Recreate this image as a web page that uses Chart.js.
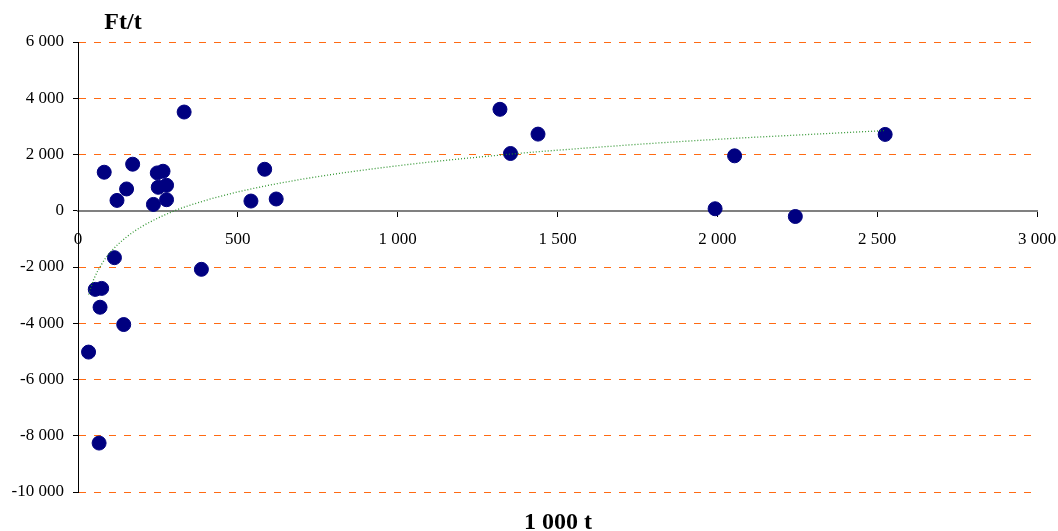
<!DOCTYPE html>
<html>
<head>
<meta charset="utf-8">
<script src="https://cdn.jsdelivr.net/npm/chart.js@4/dist/chart.umd.min.js"></script>
<style>
  body { margin: 0; background: #fff; }
</style>
</head>
<body>
<canvas id="scatterChart" width="1058" height="531"></canvas>
<script>
// 1000 t (x) vs Ft/t (y)
const tons = [332, 82, 171, 152, 122, 248, 266, 251, 277, 236, 277, 541, 584, 620,
              114, 386, 54, 74, 69, 143, 33, 66,
              1320, 1353, 1439, 2525, 2054, 1993, 2244];
const ftPerTon = [3510, 1370, 1655, 775, 368, 1345, 1405, 833, 905, 225, 393, 345, 1475, 418,
                  -1668, -2083, -2796, -2761, -3430, -4046, -5025, -8260,
                  3607, 2036, 2725, 2714, 1953, 71, -204];

// logarithmic trendline
const trendX = [33, 50, 75, 100, 150, 200, 300, 400, 500, 700, 1000, 1350, 1700, 2000, 2300, 2525];
const trendY = [-2980, -2420, -1880, -1490, -950, -560, -10, 370, 670, 1120, 1600, 2010, 2320, 2540, 2720, 2850];

const xTicks = [0, 500, 1000, 1500, 2000, 2500, 3000];
const yTicks = [-10000, -8000, -6000, -4000, -2000, 0, 2000, 4000, 6000];

const fmt = v => {
    const s = Math.abs(v).toString().replace(/\B(?=(\d{3})+(?!\d))/g, ' ');
    return (v < 0 ? '-' : '') + s;
};

const serif = '"Liberation Serif", "Times New Roman", serif';

const axisTitles = {
    id: 'axisTitles',
    afterDraw(chart) {
        const ctx = chart.ctx;
        ctx.save();
        ctx.fillStyle = '#000';
        ctx.font = 'bold 24px ' + serif;
        ctx.textAlign = 'center';
        ctx.textBaseline = 'alphabetic';
        ctx.fillText('Ft/t', 123, 29);
        ctx.fillText('1 000 t', 558, 529);
        ctx.restore();
    }
};

new Chart(document.getElementById('scatterChart').getContext('2d'), {
    type: 'scatter',
    data: {
        datasets: [{
            label: 'data',
            data: tons.map((x, i) => ({ x: x, y: ftPerTon[i] })),
            backgroundColor: '#000080',
            borderColor: '#000080',
            pointRadius: 7,
            pointHoverRadius: 7,
            order: 1
        }, {
            label: 'trend',
            type: 'line',
            data: trendX.map((x, i) => ({ x: x, y: trendY[i] })),
            borderColor: 'rgba(30,140,30,0.9)',
            borderWidth: 1.3,
            borderDash: [1, 2],
            pointRadius: 0,
            cubicInterpolationMode: 'monotone',
            fill: false,
            order: 0
        }]
    },
    options: {
        responsive: false,
        animation: false,
        devicePixelRatio: 1,
        layout: { padding: { top: 42, right: 21, bottom: 39, left: 0 } },
        plugins: {
            legend: { display: false },
            tooltip: { enabled: false }
        },
        scales: {
            x: {
                type: 'linear',
                position: { y: 0 },
                min: 0,
                max: 3000,
                afterBuildTicks: s => { s.ticks = xTicks.map(v => ({ value: v })); },
                afterFit: s => { s.paddingLeft = 0; s.paddingRight = 0; },
                ticks: {
                    callback: v => fmt(v),
                    color: '#000',
                    font: { family: serif, size: 17 },
                    padding: 14,
                    maxRotation: 0
                },
                grid: {
                    drawOnChartArea: false,
                    drawTicks: true,
                    tickLength: 5,
                    color: '#000'
                },
                border: { color: '#808080', width: 2 }
            },
            y: {
                type: 'linear',
                min: -10000,
                max: 6000,
                afterBuildTicks: s => { s.ticks = yTicks.map(v => ({ value: v })); },
                afterFit: s => { s.width = 78; s.paddingTop = 0; s.paddingBottom = 0; },
                ticks: {
                    callback: v => fmt(v),
                    color: '#000',
                    font: { family: serif, size: 17 },
                    padding: 9
                },
                grid: {
                    color: c => (c.tick && c.tick.value === 0) ? 'rgba(0,0,0,0)' : '#ff6a13',
                    tickColor: '#000',
                    tickLength: 5,
                    lineWidth: 1
                },
                border: { color: '#000', width: 1, dash: [7, 8] }
            }
        }
    },
    plugins: [axisTitles]
});
</script>
</body>
</html>
